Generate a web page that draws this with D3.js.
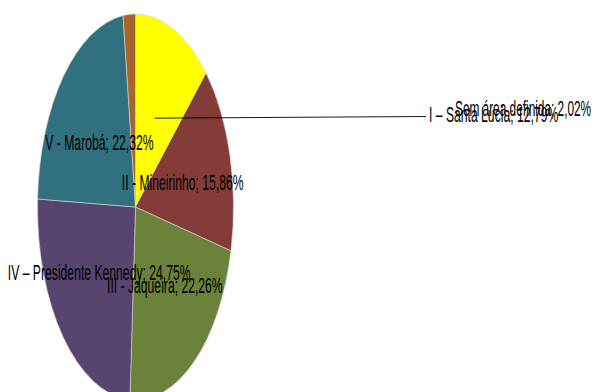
<!DOCTYPE html>
<html>
<head>
<meta charset="utf-8">
<script src="https://cdn.jsdelivr.net/npm/d3@7"></script>
<style>
  body { margin: 0; background: #fff; }
  text { font-family: "Liberation Sans", Arial, sans-serif; }
</style>
</head>
<body>
<svg id="chart" width="595" height="392"></svg>
<script>
// slice names, clockwise from 12 o'clock
var regions = ["I \u2013 Santa Lucia", "II - Mineirinho", "III - Jaqueira",
               "IV \u2013 Presidente Kennedy", "V - Marob\u00e1", "Sem \u00e1rea definida"];
var shares = [12.79, 15.86, 22.26, 24.75, 22.32, 2.02];
var shareLabels = ["12,79%", "15,86%", "22,26%", "24,75%", "22,32%", "2,02%"];
var sliceColors = ["#ffff00", "#843c39", "#6b823b", "#57446f", "#31717f", "#a6652b"];

var width = 595, height = 392;
var cx = 135.5, cy = 207;
var radius = 98;
var stretch = 1.97;  // the original picture is squeezed sideways

var svg = d3.select("#chart");

var pie = d3.pie().sort(null).value(function(d) { return d; });
var arcs = pie(shares);

var arc = d3.arc().innerRadius(0).outerRadius(radius);

//Draw slices in a vertically stretched group
var pieG = svg.append("g")
	.attr("transform", "translate(" + cx + "," + cy + ") scale(1," + stretch + ")");

pieG.selectAll("path.slice")
	.data(arcs)
	.enter()
	.append("path")
		.attr("class", "slice")
		.attr("d", arc)
		.attr("fill", function(d, i) { return sliceColors[i]; })
		.attr("stroke", "#d8d8d8")
		.attr("stroke-width", 0.6)
		.attr("vector-effect", "non-scaling-stroke");

//Helper: centroid in page coords
function pageCentroid(d) {
	var c = arc.centroid(d);
	return [cx + c[0], cy + c[1] * stretch];
}

// labels that were dragged out of the pie in the original
var movedLabels = {
	0: { x: 429, y: 113.5, anchor: "start", leaderTo: [426, 116.5] },
	5: { x: 455, y: 107.5, anchor: "start" }
};

var fontSize = 11.6;

//Leader lines
arcs.forEach(function(d, i) {
	var m = movedLabels[i];
	if (m && m.leaderTo) {
		var c = pageCentroid(d);
		svg.append("line")
			.attr("x1", c[0]).attr("y1", c[1])
			.attr("x2", m.leaderTo[0]).attr("y2", m.leaderTo[1])
			.attr("stroke", "#000")
			.attr("stroke-width", 0.9);
	}
});

//Data labels
svg.selectAll("text.lbl")
	.data(arcs)
	.enter()
	.append("text")
		.attr("class", "lbl")
		.attr("transform", function(d, i) {
			var p = movedLabels[i] ? [movedLabels[i].x, movedLabels[i].y] : pageCentroid(d);
			var sx = i === 5 ? 1.02 : 1.05;
			return "translate(" + p[0] + "," + p[1] + ") scale(" + sx + "," + stretch + ")";
		})
		.attr("text-anchor", function(d, i) { return movedLabels[i] ? movedLabels[i].anchor : "middle"; })
		.attr("dy", "0.36em")
		.style("font-size", fontSize + "px")
		.attr("fill", "#000")
		.text(function(d, i) { return regions[i] + "; " + shareLabels[i]; });
</script>
</body>
</html>
